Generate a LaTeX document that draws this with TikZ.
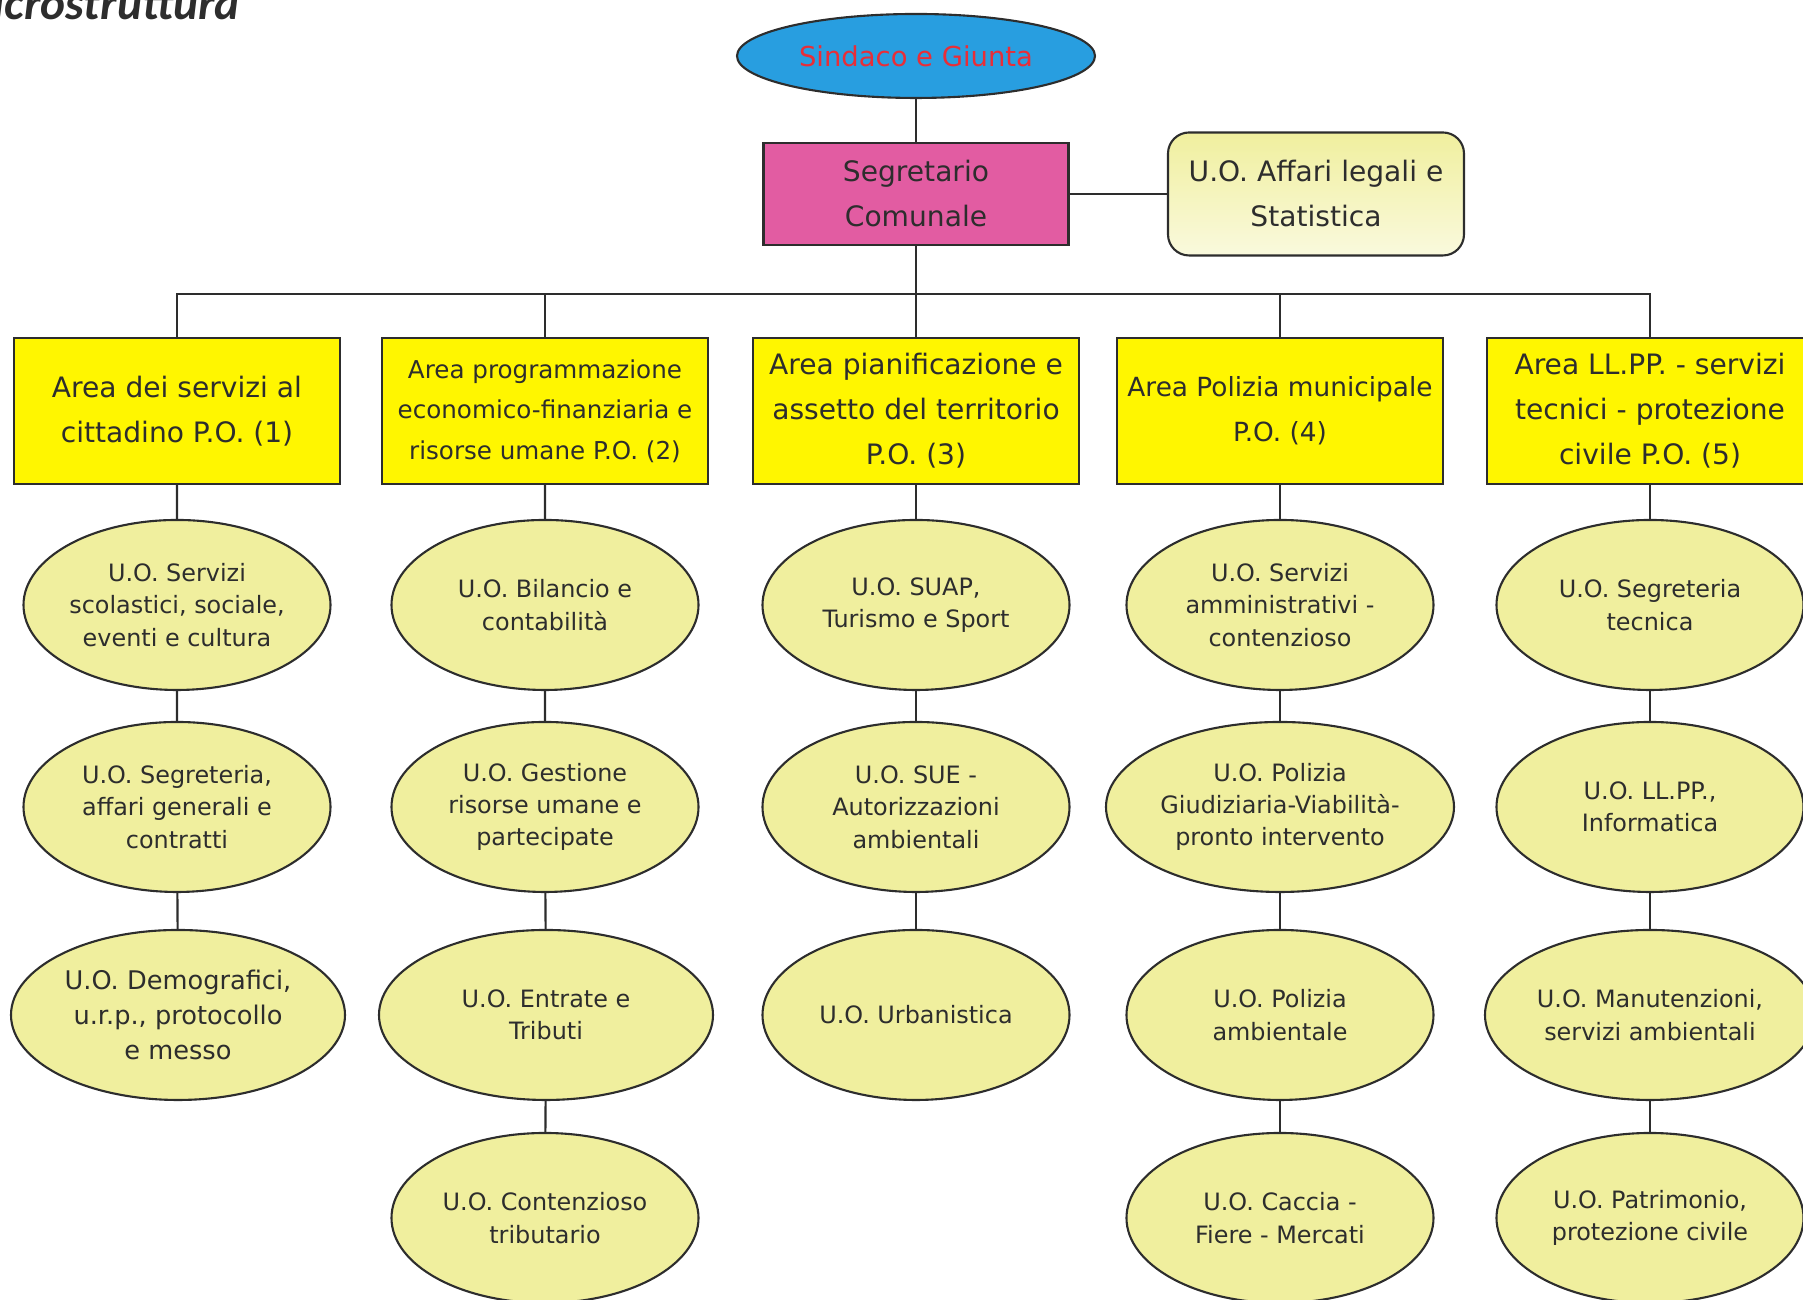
\documentclass[tikz,border=0pt]{standalone}
\usepackage{fontspec}
\setmainfont{DejaVu Sans}
\newfontfamily\titlefont{Carlito}
\usetikzlibrary{shapes.geometric}
\definecolor{cielo}{RGB}{40,158,224}
\definecolor{rosso}{RGB}{232,46,56}
\definecolor{fucsia}{RGB}{226,92,162}
\definecolor{giallo}{RGB}{255,246,0}
\definecolor{paglia}{RGB}{240,239,158}
\definecolor{inchiostro}{RGB}{45,45,45}

\begin{document}
\begin{tikzpicture}[color=inchiostro, line width=0.6pt,
	capo/.style={draw, ellipse, fill=cielo, text=rosso, minimum width=3.58cm, minimum height=0.84cm, inner sep=0pt, font=\fontsize{7.8}{9}\selectfont},
	segr/.style={draw, fill=fucsia, minimum width=3.05cm, minimum height=1.02cm, align=center, font=\fontsize{8}{12.8}\selectfont},
	legale/.style={draw, rounded corners=6pt, top color=paglia, bottom color=paglia!35, minimum width=2.96cm, minimum height=1.23cm, align=center, font=\fontsize{8}{12.8}\selectfont},
	area/.style={draw, fill=giallo, minimum width=3.26cm, minimum height=1.46cm, inner sep=1pt, align=center, font=\fontsize{8}{12.8}\selectfont},
	uo/.style={draw, ellipse, fill=paglia, minimum width=3.07cm, minimum height=1.70cm, inner sep=0pt, align=center, font=\fontsize{6.8}{9.2}\selectfont}]
	\clip (0,0) rectangle (18.03,13);
	\node[anchor=base west, inner sep=0pt, font=\titlefont\bfseries\itshape\fontsize{13.5}{15}\selectfont] (T) at (-0.63,12.80) {Macrostruttura};
	% vertice
	\node[capo] (S) at (9.16,12.44) {Sindaco e Giunta};
	\node[segr] (G) at (9.16,11.06) {Segretario\\Comunale};
	\node[legale] (L) at (13.16,11.06) {U.O. Affari legali e\\Statistica};
	\coordinate (bus) at (9.16,10.06);
	% aree
	\node[area] (A1) at (1.77,8.89) {Area dei servizi al\\cittadino P.O. (1)};
	\node[area, font=\fontsize{7}{11.5}\selectfont] (A2) at (5.45,8.89) {Area programmazione\\economico-finanziaria e\\risorse umane P.O. (2)};
	\node[area] (A3) at (9.16,8.89) {Area pianificazione e\\assetto del territorio\\P.O. (3)};
	\node[area, font=\fontsize{7.5}{12.8}\selectfont] (A4) at (12.80,8.89) {Area Polizia municipale\\P.O. (4)};
	\node[area] (A5) at (16.50,8.89) {Area LL.PP. - servizi\\tecnici - protezione\\civile P.O. (5)};
	% unita operative
	\node[uo] (U11) at (1.77,6.95) {U.O. Servizi\\scolastici, sociale,\\eventi e cultura};
	\node[uo] (U12) at (1.77,4.93) {U.O. Segreteria,\\affari generali e\\contratti};
	\node[uo, minimum width=3.34cm, font=\fontsize{7.3}{10}\selectfont] (U13) at (1.78,2.85) {U.O. Demografici,\\u.r.p., protocollo\\e messo};
	\node[uo] (U21) at (5.45,6.95) {U.O. Bilancio e\\contabilità};
	\node[uo] (U22) at (5.45,4.93) {U.O. Gestione\\risorse umane e\\partecipate};
	\node[uo, minimum width=3.34cm] (U23) at (5.46,2.85) {U.O. Entrate e\\Tributi};
	\node[uo] (U24) at (5.45,0.82) {U.O. Contenzioso\\tributario};
	\node[uo] (U31) at (9.16,6.95) {U.O. SUAP,\\Turismo e Sport};
	\node[uo] (U32) at (9.16,4.93) {U.O. SUE -\\Autorizzazioni\\ambientali};
	\node[uo] (U33) at (9.16,2.85) {U.O. Urbanistica};
	\node[uo] (U41) at (12.80,6.95) {U.O. Servizi\\amministrativi -\\contenzioso};
	\node[uo, minimum width=3.48cm] (U42) at (12.80,4.93) {U.O. Polizia\\Giudiziaria-Viabilità-\\pronto intervento};
	\node[uo] (U43) at (12.80,2.85) {U.O. Polizia\\ambientale};
	\node[uo] (U44) at (12.80,0.82) {U.O. Caccia -\\Fiere - Mercati};
	\node[uo] (U51) at (16.50,6.95) {U.O. Segreteria\\tecnica};
	\node[uo] (U52) at (16.50,4.93) {U.O. LL.PP.,\\Informatica};
	\node[uo, minimum width=3.3cm] (U53) at (16.50,2.85) {U.O. Manutenzioni,\\servizi ambientali};
	\node[uo] (U54) at (16.50,0.82) {U.O. Patrimonio,\\protezione civile};
	% collegamenti
	\draw (S) -- (G);
	\draw (G) -- (L);
	\draw (G) -- (bus);
	\draw (A1.north) |- (bus) -| (A5.north);
	\draw (A2.north) -- (A2.north |- bus);
	\draw (A3.north) -- (bus);
	\draw (A4.north) -- (A4.north |- bus);
	\draw (A1) -- (U11) -- (U12) -- (U13);
	\draw (A2) -- (U21) -- (U22) -- (U23) -- (U24);
	\draw (A3) -- (U31) -- (U32) -- (U33);
	\draw (A4) -- (U41) -- (U42) -- (U43) -- (U44);
	\draw (A5) -- (U51) -- (U52) -- (U53) -- (U54);
\end{tikzpicture}
\end{document}
